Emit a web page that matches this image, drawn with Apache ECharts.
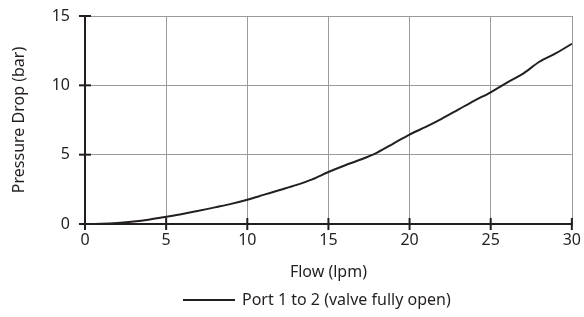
<!DOCTYPE html>
<html>
<head>
<meta charset="utf-8">
<script src="https://cdn.jsdelivr.net/npm/echarts@6/dist/echarts.min.js"></script>
<style>html,body{margin:0;padding:0;background:#fff}#c{width:584px;height:317px}</style>
</head>
<body>
<div id="c"></div>
<script>
const flow = [0,1,2,3,4,5,6,7,8,9,10,11,12,13,14,15,16,17,18,19,20,21,22,23,24,25,26,27,28,29,30];
const pressure = [0,0.02,0.08,0.18,0.33,0.52,0.72,0.95,1.2,1.45,1.75,2.1,2.45,2.8,3.22,3.75,4.22,4.65,5.15,5.8,6.45,7.0,7.6,8.25,8.9,9.5,10.2,10.85,11.7,12.3,13.0];
const xTicks = [0,5,10,15,20,25,30];
const yTicks = [0,5,10,15];
const seriesName = 'Port 1 to 2 (valve fully open)';
const xName = 'Flow (lpm)';
const yName = 'Pressure Drop (bar)';

const txt = '#231f20';
const font = 'Noto Sans';
const fs = 16;
const chart = echarts.init(document.getElementById('c'), null, {renderer: 'canvas'});

function tickSeries(data, horizontal) {
  return {
    type: 'custom', silent: true, clip: false, z: 5,
    data: data,
    renderItem: function (params, api) {
      const p = api.coord([api.value(0), api.value(1)]);
      const shape = horizontal
        ? {x1: p[0] - 6, y1: p[1], x2: p[0] + 6, y2: p[1]}
        : {x1: p[0], y1: p[1] - 6, x2: p[0], y2: p[1] + 6};
      return {type: 'line', shape: shape, style: {stroke: txt, lineWidth: 2}};
    }
  };
}

chart.setOption({
  animation: false,
  textStyle: {fontFamily: font, color: txt},
  grid: {left: 85, right: 11, top: 16, bottom: 93},
  legend: {
    left: 178, top: 287, itemWidth: 52, itemHeight: 2, itemGap: 10,
    textStyle: {fontFamily: font, fontSize: fs, color: txt, padding: [0, 0, 0, 2]},
    data: [{name: seriesName, icon: 'rect'}]
  },
  xAxis: {
    type: 'value', min: xTicks[0], max: xTicks[xTicks.length - 1], interval: 5,
    name: xName, nameLocation: 'middle', nameGap: 40,
    nameTextStyle: {fontFamily: font, fontSize: fs, color: txt},
    axisLine: {lineStyle: {color: txt, width: 2}},
    axisTick: {show: false},
    axisLabel: {fontFamily: font, fontSize: fs, color: txt, margin: 8},
    splitLine: {show: true, lineStyle: {color: '#9a9a9a', width: 1}}
  },
  yAxis: {
    type: 'value', min: yTicks[0], max: yTicks[yTicks.length - 1], interval: 5,
    name: yName, nameLocation: 'middle', nameGap: 58,
    nameTextStyle: {fontFamily: font, fontSize: fs, color: txt},
    axisLine: {show: true, lineStyle: {color: txt, width: 2}},
    axisTick: {show: false},
    axisLabel: {fontFamily: font, fontSize: fs, color: txt, margin: 15},
    splitLine: {show: true, lineStyle: {color: '#9a9a9a', width: 1}}
  },
  series: [{
    name: seriesName, type: 'line', symbol: 'none', smooth: 0.3,
    lineStyle: {color: txt, width: 2}, itemStyle: {color: txt},
    data: flow.map((f, i) => [f, pressure[i]])
  },
  tickSeries(xTicks.map(v => [v, yTicks[0]]), false),
  tickSeries(yTicks.map(v => [xTicks[0], v]), true)
  ]
});
</script>
</body>
</html>
